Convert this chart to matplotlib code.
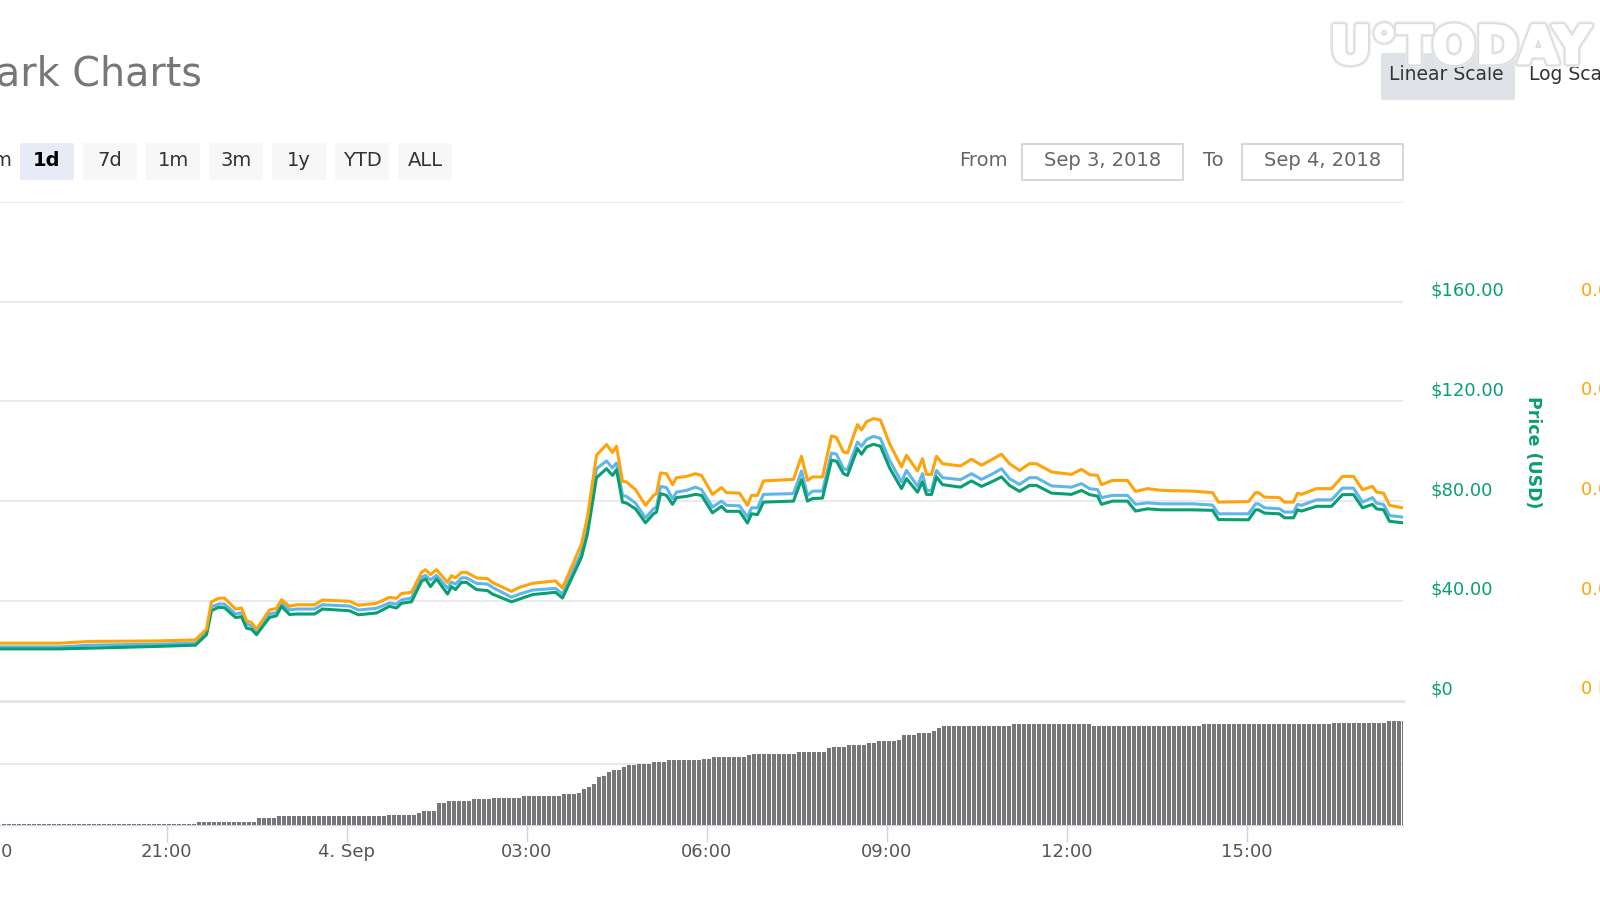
import matplotlib

matplotlib.use("Agg")
import matplotlib.patheffects as pe
import matplotlib.pyplot as plt
import numpy as np
from matplotlib.patches import FancyBboxPatch, Rectangle

# minutes relative to 4 Sep 00:00
minutes = [
    -345, -287, -256, -189, -151, -140, -135, -128, -122, -111, -105, -100, -95, -90, -77,
    -70, -65, -57, -50, -32, -24, 3, 12, 30, 43, 50, 55, 65, 75, 79,
    84, 90, 101, 105, 109, 115, 120, 130, 141, 146, 165, 173, 186, 209, 216,
    235, 241, 250, 260, 266, 270, 276, 280, 289, 299, 307, 310, 314, 320, 326,
    330, 340, 349,
    355, 366, 375, 380, 393, 401, 405, 411, 417, 447, 455, 461, 466, 476, 485,
    490, 497, 501, 511, 515, 520, 527, 534, 543, 555, 560, 571, 576, 580, 585,
    590, 596, 614, 625, 635, 645, 655, 663, 673, 683, 690, 705, 725, 735, 743,
    751, 755, 766, 781, 789, 801, 815, 846, 866, 872, 902, 909, 912, 918, 933,
    938, 947, 951, 955, 970, 985, 996, 1007, 1016, 1026, 1030, 1037, 1043, 1056,
]
price_orange = [
    23.0, 23.0, 23.7, 23.9, 24.3, 28.6, 39.6, 41.0, 41.1, 36.7, 37.1, 32.0, 31.3, 28.6, 36.3,
    37.0, 40.4, 37.8, 38.4, 38.4, 40.3, 39.8, 38.2, 39.0, 41.4, 41.0, 42.9, 43.4, 51.4, 52.5,
    50.5, 52.5, 47.4, 50.1, 49.2, 51.4, 51.4, 49.2, 48.9, 47.3, 43.8, 45.4, 47.0, 48.0, 45.1,
    62.8, 73.6, 98.4, 102.7, 99.5, 102.0, 87.9, 87.7, 84.6, 78.3, 82.3, 83.0, 91.3, 91.0, 86.6,
    89.4, 89.9, 91.0,
    90.3, 82.7, 85.4, 83.4, 83.2, 78.3, 82.3, 82.3, 88.1, 88.7, 98.0, 88.3, 89.7, 89.7, 106.2,
    105.5, 99.7, 99.3, 110.7, 108.5, 111.8, 113.1, 112.5, 103.1, 93.7, 98.4, 92.1, 97.0, 90.7, 90.7,
    98.0, 95.0, 94.1, 96.8, 94.4, 96.6, 98.8, 95.0, 92.3, 95.0, 95.0, 91.7, 90.7, 92.8, 90.6,
    90.3, 86.6, 88.3, 88.3, 83.9, 85.0, 84.3, 84.0, 83.4, 79.6, 79.8, 83.4, 83.4, 81.6, 81.4,
    79.6, 79.6, 83.2, 82.7, 85.0, 85.0, 89.9, 89.9, 84.6, 85.9, 83.6, 83.2, 78.3, 77.3,
]
price_blue = [
    21.5, 21.5, 22.2, 22.6, 23.0, 27.3, 37.6, 38.7, 38.7, 34.7, 35.2, 30.7, 30.0, 27.7, 34.7,
    35.3, 39.0, 36.3, 36.7, 36.7, 38.4, 37.9, 36.3, 37.0, 39.1, 38.7, 40.4, 41.1, 49.4, 50.2,
    48.4, 50.2, 45.1, 47.5, 46.7, 49.2, 49.2, 47.0, 46.7, 45.4, 41.4, 42.7, 44.3, 45.0, 42.7,
    59.5, 69.6, 93.0, 96.1, 93.3, 95.3, 82.3, 81.9, 79.2, 73.3, 76.9, 77.6, 85.9, 85.4, 81.0,
    83.6, 84.3, 85.6,
    84.6, 77.6, 80.0, 78.3, 78.1, 73.6, 77.3, 77.3, 82.7, 83.0, 92.1, 82.3, 84.0, 84.0, 99.3,
    98.8, 93.0, 92.6, 103.7, 102.0, 104.7, 106.0, 105.1, 96.4, 87.7, 92.3, 85.9, 91.0, 84.3, 84.3,
    92.3, 89.4, 88.6, 91.0, 88.7, 90.7, 93.0, 89.0, 86.7, 89.4, 89.4, 86.1, 85.6, 87.0, 85.0,
    84.6, 81.4, 82.3, 82.3, 78.7, 79.3, 78.9, 78.9, 78.4, 74.9, 74.9, 78.9, 78.9, 77.3, 76.9,
    75.6, 75.6, 78.7, 78.3, 80.5, 80.5, 85.2, 85.2, 79.6, 81.4, 79.2, 78.7, 74.2, 73.6,
]
price_green = [
    20.7, 20.7, 21.0, 21.7, 22.2, 26.4, 36.0, 37.4, 37.2, 33.3, 33.6, 29.0, 28.6, 26.4, 33.3,
    34.0, 37.8, 34.5, 34.7, 34.7, 36.7, 36.0, 34.4, 35.1, 37.8, 37.1, 39.0, 39.6, 47.8, 48.8,
    45.7, 48.8, 42.7, 45.7, 44.5, 47.4, 47.4, 44.5, 44.1, 42.7, 39.6, 40.7, 42.5, 43.4, 41.1,
    57.5, 66.9, 89.4, 93.0, 90.3, 92.6, 79.6, 79.2, 76.9, 71.3, 74.9, 75.6, 83.0, 82.3, 78.7,
    81.4, 81.9, 82.7,
    82.3, 75.3, 77.9, 75.9, 75.9, 71.2, 74.9, 74.6, 79.6, 80.0, 88.6, 80.0, 81.0, 81.2, 96.4,
    96.0, 91.0, 90.3, 101.1, 98.8, 101.7, 102.8, 102.0, 93.4, 85.0, 89.0, 83.6, 87.7, 82.7, 82.6,
    89.7, 86.6, 85.6, 88.1, 85.9, 87.7, 89.7, 86.3, 83.9, 86.3, 86.3, 83.2, 82.7, 84.3, 82.6,
    82.0, 78.7, 80.0, 80.0, 76.0, 76.9, 76.5, 76.5, 76.3, 72.6, 72.5, 76.5, 76.5, 75.2, 74.9,
    73.3, 73.3, 76.5, 76.0, 77.9, 77.9, 82.6, 82.6, 77.3, 78.7, 76.9, 76.5, 71.9, 71.3,
]

# the volume bars come in flat runs: level and number of 5 minute bars
volume_levels = [
    1.3, 3.3, 6.7, 8.7, 10.3, 12, 13.7, 22, 24, 25.7, 27.3, 29, 30.7, 32.3, 36.3, 37.7, 41, 47.7,
    49.3, 52.7, 54.7, 58, 59.7, 61.3, 63, 64.7, 66.3, 68, 69.7, 71.3, 73.3, 76.7, 78.3, 80, 81.7,
    83.7, 85.3, 90.3, 92, 93.7, 97, 99, 100.7, 99, 100.7, 102.3, 104,
]
volume_runs = [
    39, 12, 4, 22, 6, 1, 3, 2, 5, 4, 6, 8, 3, 1, 1, 1, 1, 1,
    1, 1, 2, 1, 2, 3, 3, 7, 2, 7, 1, 9, 6, 1, 3, 4, 2,
    4, 1, 3, 3, 1, 1, 14, 16, 22, 26, 11, 4,
]

price_ticks = [0, 40, 80, 120, 160, 200]
price_labels = ["$0", "$40.00", "$80.00", "$120.00", "$160.00"]
btc_labels = ["0 BTC", "0.0065 BTC", "0.013 BTC", "0.0195 BTC", "0.026 BTC"]
time_ticks = [-360, -180, 0, 180, 360, 540, 720, 900]
time_labels = ["18:00", "21:00", "4. Sep", "03:00", "06:00", "09:00", "12:00", "15:00"]
range_buttons = ["1d", "7d", "1m", "3m", "1y", "YTD", "ALL"]

ORANGE = "#ffa30a"
BLUE = "#5fb6ea"
GREEN = "#0a9e74"
GRID = "#e6e6e6"
AXIS = "#ccd6eb"


def px_axes(left, top, right, bottom):
    return (left / 1600, 1 - bottom / 900, (right - left) / 1600, (bottom - top) / 900)


fig = plt.figure(figsize=(16, 9), dpi=100, facecolor="white")

# price panel, runs past the left edge of the picture like the cropped page does
ax = fig.add_axes(px_axes(-35.5, 202, 1403, 700.5))
ax.plot(minutes, price_blue, color=BLUE, lw=2.2, solid_joinstyle="round")
ax.plot(minutes, price_green, color=GREEN, lw=2.2, solid_joinstyle="round")
ax.plot(minutes, price_orange, color=ORANGE, lw=2.2, solid_joinstyle="round")
ax.set_xlim(-382, 1056.5)
ax.set_ylim(0, 200)
ax.set_yticks(price_ticks)
ax.set_xticks([])
ax.yaxis.grid(True, color=GRID, lw=1.2)
ax.set_axisbelow(True)
ax.tick_params(axis="y", length=0, labelleft=False)
for name in ["top", "left", "right"]:
    ax.spines[name].set_visible(False)
ax.spines["bottom"].set_color(GRID)
ax.spines["bottom"].set_linewidth(2.2)

for value, usd, btc in zip(price_ticks, price_labels, btc_labels):
    ax.annotate(usd, (1, value), xycoords=ax.get_yaxis_transform(), xytext=(20, 1.5),
                textcoords="offset points", color=GREEN, fontsize=13, va="bottom", ha="left")
    ax.annotate(btc, (1, value), xycoords=ax.get_yaxis_transform(), xytext=(128, 1.5),
                textcoords="offset points", color=ORANGE, fontsize=13, va="bottom", ha="left")

# volume panel
volume = np.repeat(volume_levels, volume_runs)
bar_x = -345 + 2.5 + 5 * np.arange(len(volume))
ax2 = fig.add_axes(px_axes(-35.5, 701, 1403, 825), facecolor="none")
ax2.bar(bar_x, volume, width=4.2, color="#777777", linewidth=0, zorder=3)
ax2.set_xlim(-382, 1056.5)
ax2.set_ylim(0, 124)
ax2.set_yticks([61])
ax2.yaxis.grid(True, color=GRID, lw=1.2)
ax2.set_axisbelow(True)
ax2.tick_params(axis="y", length=0, labelleft=False)
ax2.set_xticks(time_ticks)
ax2.set_xticklabels(time_labels, fontsize=13, color="#555555")
ax2.tick_params(axis="x", length=12, width=1, color=AXIS, pad=1)
for name in ["top", "left", "right"]:
    ax2.spines[name].set_visible(False)
ax2.spines["bottom"].set_color(AXIS)
ax2.spines["bottom"].set_linewidth(1)

# page furniture around the chart, in pixels
page = fig.add_axes((0, 0, 1, 1), facecolor="none")
page.set_xlim(0, 1600)
page.set_ylim(900, 0)
page.axis("off")

page.text(-4, 74, "ark Charts", fontsize=28.5, color="#777777", ha="left", va="center")
page.text(11, 160, "m", fontsize=14, color="#333333", ha="right", va="center")

for i, label in enumerate(range_buttons):
    x0 = 20 + 63 * i
    active = label == "1d"
    page.add_patch(FancyBboxPatch((x0 + 2, 145), 50, 33, boxstyle="round,pad=2",
                                  fc="#e6ebf5" if active else "#f7f7f7", ec="none"))
    page.text(x0 + 27, 160, label, fontsize=14, ha="center", va="center",
              color="black" if active else "#333333", fontweight="bold" if active else "normal")

page.text(959, 160, "From", fontsize=14, color="#666666", va="center")
page.text(1203, 160, "To", fontsize=14, color="#666666", va="center")
for x0, x1, label in [(1022, 1183, "Sep 3, 2018"), (1242, 1403, "Sep 4, 2018")]:
    page.add_patch(Rectangle((x0, 144), x1 - x0, 36, fc="white", ec="#cccccc", lw=1.1))
    page.text((x0 + x1) / 2, 160, label, fontsize=14, color="#666666", ha="center", va="center")

page.add_patch(FancyBboxPatch((1383, 55), 130, 43, boxstyle="round,pad=2", fc="#dfe2e7", ec="none"))
page.text(1389, 75, "Linear Scale", fontsize=13.5, color="#333333", va="center")
page.text(1529, 75, "Log Scale", fontsize=13.5, color="#333333", va="center")

page.text(1533, 452, "Price (USD)", fontsize=12.5, color=GREEN, fontweight="bold", rotation=270,
          ha="center", va="center")

# watermark over everything
page.text(1460, 49, "U°TODAY", fontsize=37, fontweight="bold", color="white", ha="center", va="center",
          path_effects=[
              pe.Stroke(linewidth=6, foreground="#e9e9e9"),
              pe.Stroke(linewidth=4, foreground="#dcdcdc"),
              pe.Stroke(linewidth=2, foreground="white"),
              pe.Normal(),
          ])

fig.savefig("out.png", dpi=100)
